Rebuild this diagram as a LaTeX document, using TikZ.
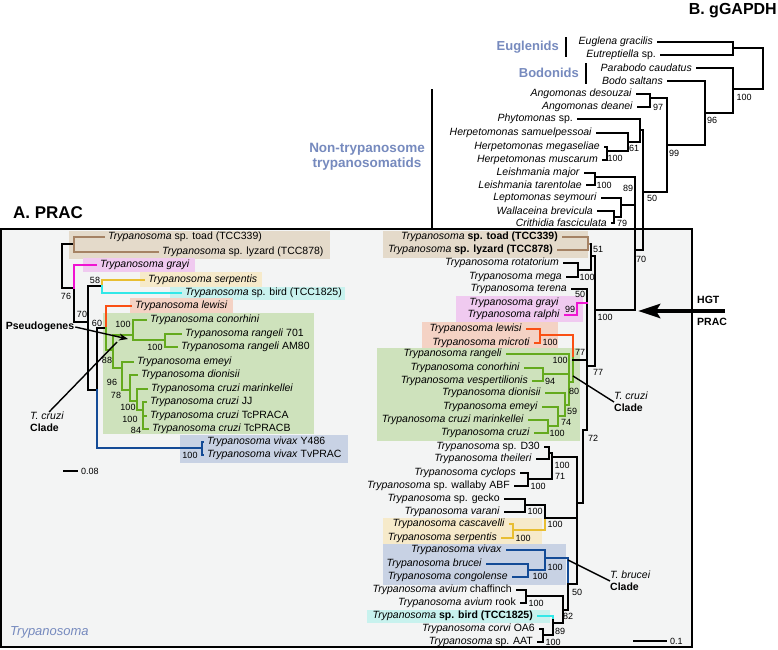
\documentclass[tikz,border=0pt]{standalone}
\usepackage{fontspec}
\setmainfont{Liberation Sans}[ItalicFont={Liberation Sans Italic},BoldFont={Liberation Sans Bold},BoldItalicFont={Liberation Sans Bold Italic}]
\usetikzlibrary{arrows.meta}
\definecolor{boxgray}{RGB}{243,244,244}
\definecolor{labblue}{RGB}{118,138,190}
\definecolor{brnline}{RGB}{165,130,100}
\definecolor{brnbg}{RGB}{228,218,202}
\definecolor{pnkline}{RGB}{240,20,210}
\definecolor{pnkbg}{RGB}{240,202,240}
\definecolor{ylwline}{RGB}{232,190,50}
\definecolor{ylwbg}{RGB}{246,234,202}
\definecolor{cynline}{RGB}{50,232,232}
\definecolor{cynbg}{RGB}{200,242,238}
\definecolor{orgline}{RGB}{250,80,20}
\definecolor{orgbg}{RGB}{244,210,196}
\definecolor{grnline}{RGB}{100,170,30}
\definecolor{grnbg}{RGB}{206,226,188}
\definecolor{bluline}{RGB}{20,75,150}
\definecolor{blubg}{RGB}{200,210,228}
\newcommand{\leaffont}{\fontsize{10.5}{12}\selectfont}
\newcommand{\bsfont}{\fontsize{9}{10}\selectfont}
\newcommand{\Tryp}{\textit{Trypanosoma}}

\begin{document}
\begin{tikzpicture}[x=1pt,y=-1pt,
  leafA/.style={anchor=west,inner xsep=4pt,inner ysep=0pt,font=\leaffont},
  leafB/.style={anchor=east,inner xsep=5pt,inner ysep=0pt,font=\leaffont},
  bs/.style={inner sep=0pt,font=\bsfont},
  br/.style={line width=2.2pt,line cap=rect},
  grp/.style={font=\fontsize{13}{15}\selectfont\bfseries,text=labblue,inner sep=0pt},
  clade/.style={font=\leaffont,align=left,inner sep=0pt}]
\useasboundingbox (0,0) rectangle (778,649);
\fill[white] (0,0) rectangle (778,649);

\draw[line width=1.2pt,fill=boxgray] (1,229) rectangle (692,647);

\fill[brnbg] (69,231) rectangle (330,259);
\fill[pnkbg] (83,258) rectangle (195,272);
\fill[ylwbg] (140,272) rectangle (262,287);
\fill[cynbg] (170,287) rectangle (345,300);
\fill[orgbg] (130,298) rectangle (233,313);
\fill[grnbg] (103,313) rectangle (314,434);
\fill[blubg] (180,435) rectangle (348,463);

\fill[brnbg] (383,231) rectangle (588,258);
\fill[pnkbg] (456,296) rectangle (583,322);
\fill[orgbg] (422,322) rectangle (558,348);
\fill[grnbg] (377,348) rectangle (580,441);
\fill[ylwbg] (383,518) rectangle (542,544);
\fill[blubg] (383,544) rectangle (566,585);
\fill[cynbg] (367,610) rectangle (550,623);

\node[font=\fontsize{17}{19}\selectfont\bfseries,inner sep=0pt] (titleA) at (48,213) {A. PRAC};
\node[font=\fontsize{16}{18}\selectfont\bfseries,inner sep=0pt,anchor=east] (titleB) at (777,11) {B. gGAPDH};

\node[leafA] (a-toad) at (104,237) {\Tryp{} sp. toad (TCC339)};
\node[leafA] (a-lyz) at (158,252) {\Tryp{} sp. lyzard (TCC878)};
\node[leafA] (a-gra) at (96,265) {\textit{Trypanosoma grayi}};
\node[leafA] (a-ser) at (144,280) {\textit{Trypanosoma serpentis}};
\node[leafA] (a-bird) at (181,293) {\Tryp{} sp. bird (TCC1825)};
\node[leafA] (a-lew) at (131,306) {\textit{Trypanosoma lewisi}};
\node[leafA] (a-con) at (146,320) {\textit{Trypanosoma conorhini}};
\node[leafA] (a-r701) at (181,334) {\textit{Trypanosoma rangeli} 701};
\node[leafA] (a-am80) at (177,347) {\textit{Trypanosoma rangeli} AM80};
\node[leafA] (a-eme) at (133,362) {\textit{Trypanosoma emeyi}};
\node[leafA] (a-dio) at (137,375) {\textit{Trypanosoma dionisii}};
\node[leafA] (a-mar) at (147,389) {\textit{Trypanosoma cruzi marinkellei}};
\node[leafA] (a-jj) at (146,402) {\textit{Trypanosoma cruzi} JJ};
\node[leafA] (a-pa) at (146,416) {\textit{Trypanosoma cruzi} TcPRACA};
\node[leafA] (a-pb) at (148,429) {\textit{Trypanosoma cruzi} TcPRACB};
\node[leafA] (a-y486) at (203,442) {\textit{Trypanosoma vivax} Y486};
\node[leafA] (a-tv) at (203,455) {\textit{Trypanosoma vivax} TvPRAC};

\draw[br] (74,244) -| (62,288) -- (74,288);
\draw[br] (74,288) -- (74,322) -- (88,322);
\draw[br] (102,286) -| (88,390) -- (97,390);
\draw[br] (97,390) -- (97,328) -- (106,328);
\draw[br,brnline] (a-toad.west) -| (74,244);
\draw[br,brnline] (a-lyz.west) -| (74,244);
\draw[br,pnkline] (a-gra.west) -| (74,288);
\draw[br,ylwline] (a-ser.west) -| (102,286);
\draw[br,cynline] (a-bird.west) -| (102,286);
\draw[br,orgline] (a-lew.west) -| (106,328);
\draw[br,grnline] (106,328) -- (106,350) -- (113,350);
\draw[br,grnline] (113,335) -- (113,368);
\draw[br,grnline] (a-con.west) -| (133,340) -- (165,340);
\draw[br,grnline] (a-r701.west) -| (165,340);
\draw[br,grnline] (a-am80.west) -| (165,340);
\draw[br,grnline] (133,335) -- (113,335);
\draw[br,grnline] (a-eme.west) -| (122,390);
\draw[br,grnline] (113,368) -- (122,368);
\draw[br,grnline] (a-dio.west) -| (130,401);
\draw[br,grnline] (130,390) -- (122,390);
\draw[br,grnline] (a-mar.west) -| (137,410);
\draw[br,grnline] (137,401) -- (130,401);
\draw[br,grnline] (a-jj.west) -| (143,429) -- (a-pb.west);
\draw[br,grnline] (a-pa.west) -- (143,416);
\draw[br,grnline] (143,410) -- (137,410);
\draw[br,bluline] (97,390) |- (202,448);
\draw[br,bluline] (a-y486.west) -| (202,448);
\draw[br,bluline] (a-tv.west) -| (202,448);

\foreach \x/\y/\v [count=\i] in {66/296/76,82/314/70,95/280/58,97/323/60,123/324/100,155/347/100,
  107/360/88,112/382/96,116/395/78,128/407/100,130/419/100,136/430/84,190/455/100}
  \node[bs] (bsA\i) at (\x,\y) {\v};

\node[font=\leaffont\bfseries,inner sep=1pt] (pseudo) at (40,327) {Pseudogenes};
\draw[line width=1.4pt,-{Stealth[length=9pt,width=7pt]}] (pseudo.east) -- (128,339);
\node[clade,anchor=north west] (tcza) at (30,412) {\textit{T. cruzi}\\\textbf{Clade}};
\draw[line width=1.4pt] (tcza.north) ++(2,0) -- (117,342);

\draw[line width=2pt] (63,471) -- (78,471) node[bs,anchor=west,xshift=2pt] (scaleA) {0.08};

\node[font=\fontsize{13}{15}\selectfont\itshape,text=labblue,inner sep=0pt,anchor=west] (trlab) at (10,632) {Trypanosoma};

\node[grp,anchor=east] (eugl) at (559,47) {Euglenids};
\node[grp,anchor=east] (bodo) at (579,73) {Bodonids};
\node[grp,align=center,font=\fontsize{13.5}{15}\selectfont\bfseries] (nontr) at (367,157) {Non-trypanosome\\trypanosomatids};
\draw[line width=1.2pt] (566,37) -- (566,57);
\draw[line width=1.2pt] (586,63) -- (586,84);
\draw[line width=1.2pt] (432,89) -- (432,229);

\node[leafB] (b-eug) at (658,42) {\textit{Euglena gracilis}};
\node[leafB] (b-eut) at (661,55) {\textit{Eutreptiella} sp.};
\node[leafB] (b-para) at (697,68) {\textit{Parabodo caudatus}};
\node[leafB] (b-bodo) at (668,81) {\textit{Bodo saltans}};
\node[leafB] (b-ades) at (637,94) {\textit{Angomonas desouzai}};
\node[leafB] (b-adea) at (638,107) {\textit{Angomonas deanei}};
\node[leafB] (b-phy) at (578,119) {\textit{Phytomonas} sp.};
\node[leafB] (b-hsam) at (597,133) {\textit{Herpetomonas samuelpessoai}};
\node[leafB] (b-hmeg) at (605,147) {\textit{Herpetomonas megaseliae}};
\node[leafB] (b-hmus) at (603,160) {\textit{Herpetomonas muscarum}};
\node[leafB] (b-lmaj) at (585,173) {\textit{Leishmania major}};
\node[leafB] (b-ltar) at (587,185) {\textit{Leishmania tarentolae}};
\node[leafB] (b-lep) at (602,198) {\textit{Leptomonas seymouri}};
\node[leafB] (b-wal) at (598,211) {\textit{Wallaceina brevicula}};
\node[leafB] (b-cri) at (612,223) {\textit{Crithidia fasciculata}};

\node[leafB] (b-toad) at (563,237) {\Tryp{} \textbf{sp. toad (TCC339)}};
\node[leafB] (b-lyz) at (558,250) {\Tryp{} \textbf{sp. lyzard (TCC878)}};
\node[leafB] (b-rot) at (564,263) {\textit{Trypanosoma rotatorium}};
\node[leafB] (b-mega) at (567,277) {\textit{Trypanosoma mega}};
\node[leafB] (b-ter) at (572,289) {\textit{Trypanosoma terena}};
\node[leafB] (b-gra) at (564,303) {\textit{Trypanosoma grayi}};
\node[leafB] (b-ral) at (565,315) {\textit{Trypanosoma ralphi}};
\node[leafB] (b-lew) at (527,329) {\textit{Trypanosoma lewisi}};
\node[leafB] (b-mic) at (535,343) {\textit{Trypanosoma microti}};
\node[leafB] (b-ran) at (507,354) {\textit{Trypanosoma rangeli}};
\node[leafB] (b-con) at (525,368) {\textit{Trypanosoma conorhini}};
\node[leafB] (b-ves) at (533,381) {\textit{Trypanosoma vespertilionis}};
\node[leafB] (b-dio) at (546,393) {\textit{Trypanosoma dionisii}};
\node[leafB] (b-eme) at (543,407) {\textit{Trypanosoma emeyi}};
\node[leafB] (b-cmar) at (529,420) {\textit{Trypanosoma cruzi marinkellei}};
\node[leafB] (b-cru) at (535,433) {\textit{Trypanosoma cruzi}};
\node[leafB] (b-d30) at (545,447) {\Tryp{} sp. D30};
\node[leafB] (b-the) at (537,459) {\textit{Trypanosoma theileri}};
\node[leafB] (b-cyc) at (521,473) {\textit{Trypanosoma cyclops}};
\node[leafB] (b-wal2) at (515,486) {\Tryp{} sp. wallaby ABF};
\node[leafB] (b-gec) at (505,499) {\Tryp{} sp. gecko};
\node[leafB] (b-var) at (505,512) {\textit{Trypanosoma varani}};
\node[leafB] (b-cas) at (510,524) {\textit{Trypanosoma cascavelli}};
\node[leafB] (b-ser) at (502,538) {\textit{Trypanosoma serpentis}};
\node[leafB] (b-viv) at (507,550) {\textit{Trypanosoma vivax}};
\node[leafB] (b-bru) at (487,564) {\textit{Trypanosoma brucei}};
\node[leafB] (b-cgo) at (513,577) {\textit{Trypanosoma congolense}};
\node[leafB] (b-avc) at (517,590) {\textit{Trypanosoma avium} chaffinch};
\node[leafB] (b-avr) at (521,603) {\textit{Trypanosoma avium} rook};
\node[leafB] (b-bird) at (538,616) {\Tryp{} \textbf{sp. bird (TCC1825)}};
\node[leafB] (b-cor) at (540,629) {\textit{Trypanosoma corvi} OA6};
\node[leafB] (b-aat) at (538,642) {\Tryp{} sp. AAT};

\draw[br] (b-eug.east) -| (733,48);
\draw[br] (b-eut.east) -| (733,48);
\draw[br] (733,48) -| (763,89) -- (733,89);
\draw[br] (b-para.east) -| (733,113);
\draw[br] (b-bodo.east) -| (705,145) -- (667,145);
\draw[br] (705,113) -- (733,113);
\draw[br] (b-ades.east) -| (650,98);
\draw[br] (b-adea.east) -| (650,98) -- (667,98) -- (667,192) -- (643,192);
\draw[br] (b-hmeg.east) -| (607,151);
\draw[br] (b-hmus.east) -| (607,151) -- (628,151);
\draw[br] (b-hsam.east) -| (628,151);
\draw[br] (628,142) -- (640,142);
\draw[br] (b-phy.east) -| (640,142);
\draw[br] (640,130) -- (643,130) -- (643,250) -- (635,250);
\draw[br] (b-lmaj.east) -| (595,177);
\draw[br] (b-ltar.east) -| (595,177) -- (635,177) -- (635,310) -- (595,310);
\draw[br] (b-wal.east) -| (614,217);
\draw[br] (b-cri.east) -| (614,217) -- (621,217);
\draw[br] (b-lep.east) -| (621,217);
\draw[br] (621,205) -- (635,205);

\draw[br,brnline] (b-toad.east) -| (588,244);
\draw[br,brnline] (b-lyz.east) -| (588,244) -- (591,244);
\draw[br] (b-rot.east) -| (578,270);
\draw[br] (b-mega.east) -| (578,270) -- (591,270) -- (591,244);
\draw[br] (591,256) -- (595,256) -- (595,366) -- (587,366);
\draw[br] (b-ter.east) -| (587,430) -- (583,430) -- (583,503) -- (577,503);
\draw[br,pnkline] (b-ral.east) -| (577,303) -- (587,303);
\draw[br,orgline] (b-lew.east) -| (540,335);
\draw[br,orgline] (b-mic.east) -| (540,335) -- (573,335) -- (573,358);
\draw[br,grnline] (573,358) -- (573,382) -- (569,382);
\draw[br,grnline] (b-ran.east) -| (569,405);
\draw[br,grnline] (b-con.east) -| (543,374);
\draw[br,grnline] (b-ves.east) -| (543,374) -- (569,374);
\draw[br,grnline] (b-dio.east) -| (565,416);
\draw[br,grnline] (565,405) -- (569,405);
\draw[br,grnline] (b-eme.east) -| (558,426);
\draw[br,grnline] (558,416) -- (565,416);
\draw[br,grnline] (b-cmar.east) -| (548,426);
\draw[br,grnline] (b-cru.east) -| (548,426) -- (558,426);
\draw[br] (573,360) -- (587,360);

\draw[br] (b-d30.east) -| (549,453);
\draw[br] (b-the.east) -| (549,453) -- (552,453);
\draw[br] (b-cyc.east) -| (528,479);
\draw[br] (b-wal2.east) -| (528,479) -- (552,479) -- (552,453);
\draw[br] (552,457) -- (577,457) -- (577,584) -- (568,584);
\draw[br] (b-gec.east) -| (525,505);
\draw[br] (b-var.east) -| (525,505) -- (545,505) -- (545,520);
\draw[br,ylwline] (b-cas.east) -| (513,530);
\draw[br,ylwline] (b-ser.east) -| (513,530) -- (545,530) -- (545,520);
\draw[br] (545,518) -- (577,518);
\draw[br,bluline] (b-viv.east) -| (545,570);
\draw[br,bluline] (b-bru.east) -| (528,570);
\draw[br,bluline] (b-cgo.east) -| (528,570) -- (545,570);
\draw[br,bluline] (545,558) -- (568,558) -- (568,584);
\draw[br] (568,584) -- (568,610) -- (563,610);
\draw[br] (b-avc.east) -| (526,596);
\draw[br] (b-avr.east) -| (526,596) -- (563,596) -- (563,623) -- (553,623);
\draw[br,cynline] (b-bird.east) -| (553,620);
\draw[br] (553,620) -- (553,635) -- (543,635);
\draw[br] (b-cor.east) -| (543,635);
\draw[br] (b-aat.east) -| (543,635);

\foreach \x/\y/\v [count=\i] in {744/97/100,712/120/96,658/107/97,674/153/99,634/148/61,615/158/100,
  652/198/50,604/185/100,628/188/89,622/223/79,641/259/70,
  598/249/51,587/277/100,580/294/50,570/309/99,605/317/100,550/342/100,580/352/77,560/360/100,
  598/372/77,550/381/94,574/391/80,572/411/59,566/422/74,557/433/100,593/438/72,562/465/100,
  560/476/71,538/486/100,535/511/100,555/524/100,523/538/100,555/567/100,540/576/100,577/592/50,
  536/603/100,568/616/82,560/631/89,553/642/100}
  \node[bs] (bsB\i) at (\x,\y) {\v};

\node[clade,anchor=west] (tczb) at (614,402) {\textit{T. cruzi}\\\textbf{Clade}};
\draw[line width=1.4pt] (573,376) -- (tczb.west);
\node[clade,anchor=west] (tbrb) at (610,581) {\textit{T. brucei}\\\textbf{Clade}};
\draw[line width=1.4pt] (568,560) -- (tbrb.west);

\node[font=\fontsize{10.5}{12}\selectfont\bfseries,inner sep=0pt,anchor=west] (hgt) at (697,300) {HGT};
\node[font=\fontsize{10.5}{12}\selectfont\bfseries,inner sep=0pt,anchor=west] (prac) at (697,322) {PRAC};
\draw[line width=4.5pt,-{Stealth[length=22pt,width=14pt,inset=4pt]}] (725,311) -- (638,311);

\draw[line width=2pt] (633,641) -- (667,641) node[bs,anchor=west,xshift=2pt] (scaleB) {0.1};
\end{tikzpicture}
\end{document}
